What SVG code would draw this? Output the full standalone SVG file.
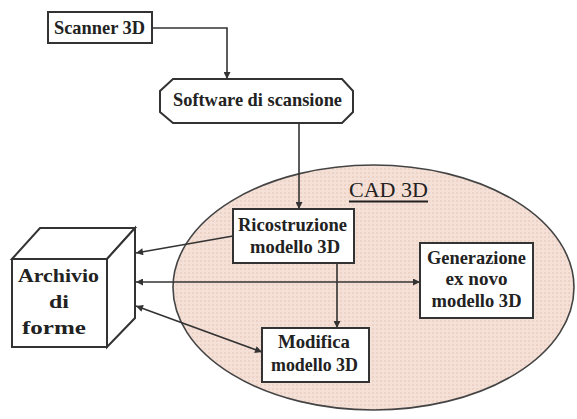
<svg xmlns="http://www.w3.org/2000/svg" width="577" height="419" viewBox="0 0 577 419">
<style>
.box{fill:#fff;stroke:#333;stroke-width:2}
.t{font-family:"Liberation Serif","DejaVu Serif",serif;font-weight:bold;font-size:19px;fill:#222;text-anchor:middle}
.c{fill:none;stroke:#333;stroke-width:1.6}
</style>
<defs>
<pattern id="dots" width="4" height="4" patternUnits="userSpaceOnUse">
<rect width="4" height="4" fill="#f5e0d7"/>
<circle cx="1" cy="1" r="0.7" fill="#dfb9aa"/>
</pattern>
<marker id="ah" viewBox="0 0 10 10" refX="10" refY="5" markerWidth="9" markerHeight="7" markerUnits="userSpaceOnUse" orient="auto-start-reverse">
<path d="M0,0 L10,5 L0,10 z" fill="#333"/>
</marker>
</defs>
<rect width="577" height="419" fill="#fff"/>
<g id="cad3d">
<ellipse cx="373.5" cy="287.5" rx="200.5" ry="122.5" fill="url(#dots)" stroke="#444" stroke-width="1.6"/>
<text x="388.5" y="197" font-family="'Liberation Serif','DejaVu Serif',serif" font-size="22" fill="#222" text-anchor="middle" textLength="79" lengthAdjust="spacingAndGlyphs">CAD 3D</text>
<line x1="349" y1="201.5" x2="428" y2="201.5" stroke="#222" stroke-width="2"/>
</g>
<g id="connectors">
<path class="c" d="M152,28 H227 V79" marker-end="url(#ah)"/>
<path class="c" d="M299,123 V209" marker-end="url(#ah)"/>
<path class="c" d="M337,263 V328" marker-end="url(#ah)"/>
<path class="c" d="M233,236 L136,253" marker-end="url(#ah)"/>
<path class="c" d="M136,282 H420" marker-start="url(#ah)" marker-end="url(#ah)"/>
<path class="c" d="M136,306 L262,352" marker-start="url(#ah)" marker-end="url(#ah)"/>
</g>
<g id="scanner">
<rect class="box" x="48" y="12" width="104" height="31"/>
<text class="t" x="99.5" y="34" textLength="91" lengthAdjust="spacingAndGlyphs">Scanner 3D</text>
</g>
<g id="software">
<polygon class="box" points="173,79 342,79 353,91 353,112 342,123 173,123 160,112 160,91"/>
<text class="t" x="257.5" y="106" textLength="169" lengthAdjust="spacingAndGlyphs">Software di scansione</text>
</g>
<g id="ricostruzione">
<rect class="box" x="233" y="209" width="121" height="54"/>
<text class="t" x="292.5" y="231" font-size="20" textLength="109" lengthAdjust="spacingAndGlyphs">Ricostruzione</text>
<text class="t" x="295" y="253" font-size="20" textLength="90" lengthAdjust="spacingAndGlyphs">modello 3D</text>
</g>
<g id="generazione">
<rect class="box" x="420" y="243" width="113" height="75"/>
<text class="t" x="476.5" y="264" textLength="99" lengthAdjust="spacingAndGlyphs">Generazione</text>
<text class="t" x="476.5" y="285" textLength="62" lengthAdjust="spacingAndGlyphs">ex novo</text>
<text class="t" x="476.5" y="307" textLength="90" lengthAdjust="spacingAndGlyphs">modello 3D</text>
</g>
<g id="modifica">
<rect class="box" x="262" y="328" width="107" height="54"/>
<text class="t" x="314" y="348" textLength="72" lengthAdjust="spacingAndGlyphs">Modifica</text>
<text class="t" x="314.5" y="371" textLength="87" lengthAdjust="spacingAndGlyphs">modello 3D</text>
</g>
<g id="archivio">
<polygon class="box" points="12,259 40,228 135,228 107,259"/>
<polygon class="box" points="107,259 135,228 135,318 107,347"/>
<rect class="box" x="12" y="259" width="95" height="88"/>
<text class="t" x="58.5" y="282" font-size="21" textLength="81" lengthAdjust="spacingAndGlyphs">Archivio</text>
<text class="t" x="59" y="308" font-size="21" textLength="20" lengthAdjust="spacingAndGlyphs">di</text>
<text class="t" x="54" y="334" font-size="21" textLength="64" lengthAdjust="spacingAndGlyphs">forme</text>
</g>
</svg>
